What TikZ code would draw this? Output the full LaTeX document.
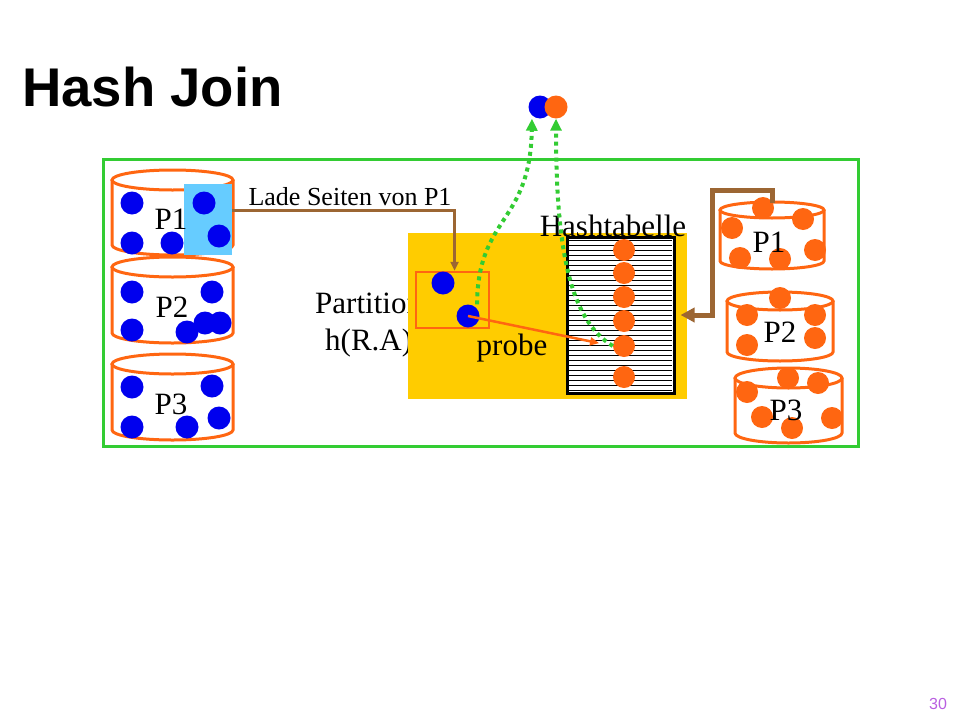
\documentclass[tikz,border=0pt]{standalone}
\usepackage{fontspec}
\setmainfont{Liberation Serif}
\newfontfamily\hjsans{Liberation Sans}
\usetikzlibrary{arrows.meta}

\definecolor{hjblue}{RGB}{0,0,238}
\definecolor{hjorange}{RGB}{255,102,17}
\definecolor{hjgreen}{RGB}{51,204,51}
\definecolor{hjyellow}{RGB}{255,204,0}
\definecolor{hjsky}{RGB}{102,204,255}
\definecolor{hjbrown}{RGB}{156,102,51}
\definecolor{hjviolet}{RGB}{185,95,225}

\tikzset{
  bdot/.style={circle,fill=hjblue,inner sep=0pt,minimum size=23pt},
  odot/.style={circle,fill=hjorange,inner sep=0pt,minimum size=22pt},
  cyl/.style={draw=hjorange,line width=3pt},
  big/.style={font=\fontsize{31}{36}\selectfont,inner sep=0pt},
  gdot/.style={hjgreen,line width=4pt,dash pattern=on 4pt off 4pt,-{Triangle[length=12pt,width=11pt]}},
}

\begin{document}
\begin{tikzpicture}[x=1pt,y=-1pt]
\useasboundingbox (0,0) rectangle (960,720);
% title and page number
\node[anchor=west,inner sep=0pt,font=\hjsans\bfseries\fontsize{54.5}{62}\selectfont] (title) at (22,87) {Hash Join};
\node[font=\hjsans\fontsize{16}{18}\selectfont,text=hjviolet] (pageno) at (938,704) {30};
% frame
\draw[hjgreen,line width=3pt] (103,159) rectangle (858,446);

% partition text, partly hidden by the buffer
\node[big,anchor=west] (parttxt) at (315,303) {Partition};
\node[big,anchor=west] (hashfn) at (325,343) {h(R.A)};
\node[fill=hjyellow,inner sep=0pt,minimum width=279pt,minimum height=166pt] (buf) at (547.5,316) {};

% left partitions (R)
\draw[cyl] (172.5,180) ellipse [x radius=60.5pt,y radius=10pt];
\draw[cyl] (112,180) -- (112,245) arc[start angle=180,end angle=360,x radius=60.5pt,y radius=10pt] -- (233,180);
\draw[cyl] (172.5,267) ellipse [x radius=60.5pt,y radius=10pt];
\draw[cyl] (112,267) -- (112,333) arc[start angle=180,end angle=360,x radius=60.5pt,y radius=10pt] -- (233,267);
\draw[cyl] (172.5,364) ellipse [x radius=60.5pt,y radius=10pt];
\draw[cyl] (112,364) -- (112,430) arc[start angle=180,end angle=360,x radius=60.5pt,y radius=10pt] -- (233,364);
\node[fill=hjsky,inner sep=0pt,minimum width=48pt,minimum height=71pt] (load) at (208,219.5) {};
\foreach \x/\y [count=\i] in {132/203,132/243,172/243,204/203,219/236}
  \node[bdot] (ra\i) at (\x,\y) {};
\foreach \x/\y [count=\i] in {132/292,212/292,132/330,187/332,205/323,220/323}
  \node[bdot] (rb\i) at (\x,\y) {};
\foreach \x/\y [count=\i] in {132/387,212/386,132/427,187/427,219/418}
  \node[bdot] (rc\i) at (\x,\y) {};
\node[big] (rp1) at (171,219) {P1};
\node[big] (rp2) at (172,307) {P2};
\node[big] (rp3) at (171,404) {P3};

% hash table
\node[draw,line width=3pt,fill=white,inner sep=0pt,minimum width=107pt,minimum height=156pt] (ht) at (620.5,315) {};
\foreach \y in {240,245,...,390}
  \draw[line width=0.8pt] (569,\y) -- (672,\y);
\node[big] (httxt) at (613,226) {Hashtabelle};
\foreach \y [count=\i] in {250,273,297,321,346,377}
  \node[odot] (h\i) at (624,\y) {};

% current page
\node[draw=hjorange,line width=2.5pt,inner sep=0pt,minimum width=73pt,minimum height=56pt] (part) at (452.5,300) {};
\node[bdot] (pa) at (443,283) {};
\node[bdot] (pb) at (468,316) {};
\node[big] (probetxt) at (512,348) {probe};
\draw[hjorange,line width=2.5pt,-{Triangle[length=9pt,width=8pt]},shorten >=14pt] (pb.center) -- (h5.west);

% load pages
\node[font=\fontsize{26}{30}\selectfont,inner sep=0pt] (ladetxt) at (350,197) {Lade Seiten von P1};
\draw[hjbrown,line width=2.5pt,-{Triangle[length=9pt,width=8pt]}] ([yshift=9pt]load.east) -| ([xshift=2pt]part.north);

% result
\node[bdot] (jb) at (540,107) {};
\node[odot,minimum size=23pt] (jo) at (556,107) {};
\draw[gdot] ([xshift=9pt]pb.north) .. controls (478,215) and (530,225) .. ([xshift=-8pt]jb.south);
\draw[gdot] (h5.west) .. controls (570,320) and (556,250) .. (jo.south);

% right partitions (S)
\draw[cyl] (772,210) ellipse [x radius=52pt,y radius=8pt];
\draw[cyl] (720,210) -- (720,261) arc[start angle=180,end angle=360,x radius=52pt,y radius=8pt] -- (824,210);
\draw[cyl] (780,301) ellipse [x radius=53pt,y radius=9pt];
\draw[cyl] (727,301) -- (727,352) arc[start angle=180,end angle=360,x radius=53pt,y radius=9pt] -- (833,301);
\draw[cyl] (788.5,378) ellipse [x radius=53.5pt,y radius=10pt];
\draw[cyl] (735,378) -- (735,433) arc[start angle=180,end angle=360,x radius=53.5pt,y radius=10pt] -- (842,378);
\foreach \x/\y [count=\i] in {763/208,803/219,732/228,740/258,780/259,815/250}
  \node[odot] (sa\i) at (\x,\y) {};
\foreach \x/\y [count=\i] in {780/298,747/315,815/315,747/345,815/338}
  \node[odot] (sb\i) at (\x,\y) {};
\foreach \x/\y [count=\i] in {788/378,818/383,747/392,762/417,792/428,832/418}
  \node[odot] (sc\i) at (\x,\y) {};
\node[big] (sp1) at (769,242) {P1};
\node[big] (sp2) at (780,332) {P2};
\node[big] (sp3) at (786,410) {P3};

% feed hash table from S.P1
\coordinate (stop) at (772,203);
\draw[hjbrown,line width=5pt,-{Triangle[length=14pt,width=14pt]},shorten >=5pt] (stop) |- (712,190) |- (ht.east);
\end{tikzpicture}
\end{document}
